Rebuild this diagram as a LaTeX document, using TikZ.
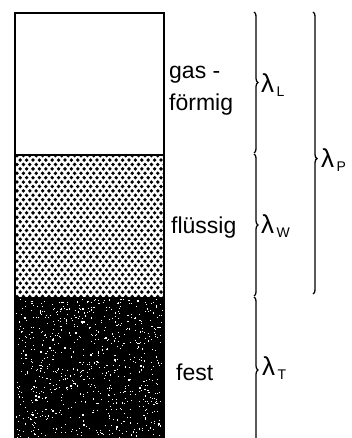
\documentclass[tikz,border=0pt]{standalone}
\usepackage{fontspec}
\setmainfont{Liberation Sans}
\usepackage{tikz}
\usetikzlibrary{decorations.pathreplacing, positioning, calc}
\tikzset{
    phase/.style={draw=black, line width=1.5pt},
    phaselabel/.style={anchor=west, align=left, inner sep=0pt, font=\fontsize{23}{32}\selectfont},
    lambdabrace/.style={decorate, decoration={brace, amplitude=4pt}, line width=1.3pt},
    lambdalabel/.style={anchor=west, inner sep=0pt, font=\fontsize{26}{28}\selectfont}
}
\newcommand{\lam}[1]{λ\raisebox{-4pt}{\fontsize{14}{14}\selectfont\,#1}}

\begin{document}
\begin{tikzpicture}[x=1pt, y=1pt]
        \useasboundingbox (0,0) rectangle (351,438);
        % Phases
        \fill[white] (15,283) rectangle (164,425);
        \begin{scope}
            \clip (15,140) rectangle (164,283);
            \foreach \r in {0,...,32} {
                \foreach \c in {0,...,23} {
                    \fill[black] ({17+6.4*\c+3.2*mod(\r,2)},{141.5+4.4*\r}) circle (1.9);
                }
            }
        \end{scope}
        \fill[black] (15,0) rectangle (164,140);
        \begin{scope}
            \clip (15,0) rectangle (164,140);
            \pgfmathsetseed{17}
            \foreach \i in {1,...,800} {
                \pgfmathsetmacro{\rx}{15+149*rnd}
                \pgfmathsetmacro{\ry}{140*rnd}
                \pgfmathsetmacro{\rs}{0.6+0.8*rnd}
                \fill[white] (\rx,\ry) rectangle ++(\rs,\rs);
            }
        \end{scope}
        \draw[phase] (15,0) -- (15,425) -- (164,425) -- (164,0);
        \draw[phase] (15,283) -- (164,283);
        \draw[phase] (15,140) -- (164,140);
        % Labels
        \node (gas) [phaselabel] at (169,347) {gas -\\förmig};
        \node (liquid) [phaselabel] at (171,210) {flüssig};
        \node (solid) [phaselabel] at (176,66) {fest};
        % Braces
        \coordinate (lTop) at (254,426);
        \coordinate (lBot) at (254,285);
        \coordinate (wTop) at (254,284);
        \coordinate (wBot) at (254,142);
        \coordinate (tTop) at (254,141);
        \coordinate (tBot) at (254,-5);
        \coordinate (pTop) at (313,426);
        \coordinate (pBot) at (313,144);
        \draw[lambdabrace] (lTop) -- (lBot);
        \draw[lambdabrace] (wTop) -- (wBot);
        \draw[lambdabrace] (tTop) -- (tBot);
        \draw[lambdabrace, decoration={aspect=0.52}] (pTop) -- (pBot);
        \node (lamL) [lambdalabel] at (261,353) {\lam{L}};
        \node (lamW) [lambdalabel] at (261,212) {\lam{W}};
        \node (lamT) [lambdalabel] at (262,70) {\lam{T}};
        \node (lamP) [lambdalabel] at (321,278) {\lam{P}};
    \end{tikzpicture}
\end{document}
